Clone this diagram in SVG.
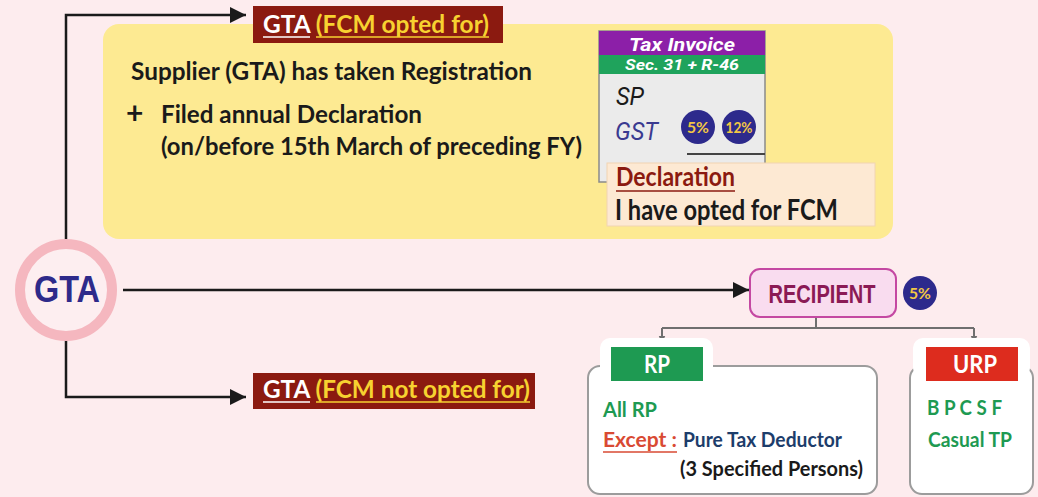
<svg xmlns="http://www.w3.org/2000/svg" width="1038" height="497" viewBox="0 0 1038 497">
  <defs>
    <marker id="arrowBig" viewBox="0 0 10 10" refX="10" refY="5" markerWidth="18" markerHeight="16" markerUnits="userSpaceOnUse" orient="auto">
      <path d="M0,0 L10,5 L0,10 Z" fill="#1a1a1a"/>
    </marker>
    <marker id="arrowGray" viewBox="0 0 10 10" refX="10" refY="5" markerWidth="8" markerHeight="8" markerUnits="userSpaceOnUse" orient="auto">
      <path d="M0,1 L10,5 L0,9 Z" fill="#6f6f6f"/>
    </marker>
    <style>
      .body { font-family: Lato, "Liberation Sans", sans-serif; font-weight: 700; }
      .hdr { font-family: Roboto, "Liberation Sans", sans-serif; font-weight: 700; font-style: italic; fill: #ffffff; }
      .inv { font-family: Roboto, "Liberation Sans", sans-serif; font-style: italic; }
      .title-box { fill: #8b1a10; }
      .t-white { fill: #ffffff; }
      .t-yellow { fill: #f7d230; }
      .link { fill: none; stroke: #1a1a1a; stroke-width: 2.5; }
      .tree { fill: none; stroke: #6f6f6f; stroke-width: 2; }
      .badge { fill: #2d2a8c; }
      .badge-t { font-family: Lato, "Liberation Sans", sans-serif; font-weight: 700; fill: #f2c744; font-size: 16px; }
      .panel { fill: #ffffff; stroke: #9c9c9c; stroke-width: 2; }
      .green { fill: #1e9a52; }
    </style>
  </defs>

  <!-- page background -->
  <rect x="0" y="0" width="1038" height="497" fill="#fdecee"/>

  <!-- connectors -->
  <g id="connectors">
    <path class="link" d="M66,240 V15 H246" marker-end="url(#arrowBig)"/>
    <path class="link" d="M66,340 V397 H246" marker-end="url(#arrowBig)"/>
    <path class="link" d="M123,290 H749" marker-end="url(#arrowBig)"/>
    <path class="tree" d="M816,317 V328"/>
    <path class="tree" d="M662,328 H974"/>
    <path class="tree" d="M662,328 V344" marker-end="url(#arrowGray)"/>
    <path class="tree" d="M974,328 V344" marker-end="url(#arrowGray)"/>
  </g>

  <!-- FCM opted: conditions panel -->
  <g id="fcm-conditions">
    <rect x="103" y="24" width="790" height="215" rx="16" fill="#fdea92"/>
    <text class="body" x="131" y="80" font-size="24" fill="#1a1a1a" textLength="401" lengthAdjust="spacingAndGlyphs">Supplier (GTA) has taken Registration</text>
    <text class="body" x="126" y="124" font-size="30" fill="#1a1a1a">+</text>
    <text class="body" x="161" y="123" font-size="24" fill="#1a1a1a" textLength="261" lengthAdjust="spacingAndGlyphs">Filed annual Declaration</text>
    <text class="body" x="161" y="155" font-size="24" fill="#1a1a1a" textLength="421" lengthAdjust="spacingAndGlyphs">(on/before 15th March of preceding FY)</text>
  </g>

  <!-- tax invoice card -->
  <g id="tax-invoice">
    <rect x="599" y="31" width="166" height="151" fill="#ebebeb" stroke="#8a8a8a" stroke-width="1.5"/>
    <rect x="599" y="31" width="166" height="24" fill="#8c1fa8"/>
    <rect x="599" y="55" width="166" height="19" fill="#1fa35c"/>
    <text class="hdr" x="682" y="51" font-size="19" text-anchor="middle" textLength="106" lengthAdjust="spacingAndGlyphs">Tax Invoice</text>
    <text class="hdr" x="682" y="70" font-size="14" text-anchor="middle" textLength="114" lengthAdjust="spacingAndGlyphs">Sec. 31 + R-46</text>
    <text class="inv" x="616" y="105" font-size="25" fill="#1a1a1a" textLength="28" lengthAdjust="spacingAndGlyphs">SP</text>
    <text class="inv" x="615" y="140" font-size="25" fill="#3a3a90" textLength="43" lengthAdjust="spacingAndGlyphs">GST</text>
    <circle class="badge" cx="698" cy="127" r="17"/>
    <text class="badge-t" x="698" y="133" text-anchor="middle" textLength="22" lengthAdjust="spacingAndGlyphs">5%</text>
    <circle class="badge" cx="739" cy="127" r="17"/>
    <text class="badge-t" x="739" y="133" text-anchor="middle" textLength="27" lengthAdjust="spacingAndGlyphs">12%</text>
    <line x1="687" y1="154" x2="765" y2="154" stroke="#444444" stroke-width="2"/>
  </g>

  <!-- declaration note -->
  <g id="declaration">
    <rect x="607" y="163" width="268" height="63" fill="#fde9d3" stroke="#f1d4b2" stroke-width="1"/>
    <text class="body" x="616" y="186" font-size="26" fill="#8b1a10" textLength="119" lengthAdjust="spacingAndGlyphs">Declaration</text>
    <line x1="616" y1="191" x2="735" y2="191" stroke="#8b1a10" stroke-width="1.6"/>
    <text class="body" x="615" y="220" font-size="28" fill="#1a1a1a" textLength="223" lengthAdjust="spacingAndGlyphs">I have opted for FCM</text>
  </g>

  <!-- GTA (FCM opted for) -->
  <g id="gta-fcm-opted">
    <rect class="title-box" x="253" y="6" width="250" height="37"/>
    <text class="body" x="263" y="33" font-size="25" textLength="226" lengthAdjust="spacingAndGlyphs"><tspan class="t-white">GTA </tspan><tspan class="t-yellow">(FCM opted for)</tspan></text>
    <line x1="263" y1="37" x2="310" y2="37" stroke="#ffffff" stroke-width="1.5"/>
    <line x1="316" y1="37" x2="489" y2="37" stroke="#f7d230" stroke-width="1.5"/>
  </g>

  <!-- GTA (FCM not opted for) -->
  <g id="gta-fcm-not-opted">
    <rect class="title-box" x="253" y="373" width="282" height="36"/>
    <text class="body" x="263" y="398" font-size="25" textLength="267" lengthAdjust="spacingAndGlyphs"><tspan class="t-white">GTA </tspan><tspan class="t-yellow">(FCM not opted for)</tspan></text>
    <line x1="263" y1="402" x2="310" y2="402" stroke="#ffffff" stroke-width="1.5"/>
    <line x1="316" y1="402" x2="530" y2="402" stroke="#f7d230" stroke-width="1.5"/>
  </g>

  <!-- GTA origin -->
  <g id="gta">
    <circle cx="66" cy="290" r="46" fill="#fdeef0" stroke="#f5b7bf" stroke-width="10"/>
    <text x="67" y="302" font-family="'Liberation Sans', Arial, sans-serif" font-weight="700" font-size="37" fill="#2e2a8a" text-anchor="middle" textLength="66" lengthAdjust="spacingAndGlyphs">GTA</text>
  </g>

  <!-- recipient -->
  <g id="recipient">
    <rect x="750" y="269" width="146" height="48" rx="10" fill="#f9dcef" stroke="#c448a2" stroke-width="2"/>
    <text x="822" y="303" font-family="'Liberation Sans', Arial, sans-serif" font-weight="700" font-size="26" fill="#8b1a55" text-anchor="middle" textLength="107" lengthAdjust="spacingAndGlyphs">RECIPIENT</text>
    <circle class="badge" cx="920" cy="293" r="17"/>
    <text class="badge-t" x="920" y="299" text-anchor="middle" textLength="22" lengthAdjust="spacingAndGlyphs">5%</text>
  </g>

  <!-- registered persons -->
  <g id="rp">
    <rect class="panel" x="588" y="366" width="289" height="128" rx="12"/>
    <rect x="600" y="338" width="113" height="40" rx="10" fill="#ffffff"/>
    <rect x="611" y="347" width="92" height="34" fill="#1e9a52"/>
    <text x="657" y="373" font-family="Lato, 'Liberation Sans', sans-serif" font-weight="700" font-size="25" fill="#ffffff" text-anchor="middle" textLength="26" lengthAdjust="spacingAndGlyphs">RP</text>
    <text class="body green" x="603" y="417" font-size="20" textLength="54" lengthAdjust="spacingAndGlyphs">All RP</text>
    <text class="body" x="603" y="447" font-size="20" fill="#d94a33" textLength="74" lengthAdjust="spacingAndGlyphs">Except :</text>
    <line x1="603" y1="452" x2="677" y2="452" stroke="#d94a33" stroke-width="1.6"/>
    <text class="body" x="683" y="447" font-size="20" fill="#1d3d6b" textLength="159" lengthAdjust="spacingAndGlyphs">Pure Tax Deductor</text>
    <text class="body" x="680" y="476" font-size="20" fill="#1a1a1a" textLength="183" lengthAdjust="spacingAndGlyphs">(3 Specified Persons)</text>
  </g>

  <!-- unregistered persons -->
  <g id="urp">
    <rect class="panel" x="910" y="366" width="123" height="128" rx="12"/>
    <rect x="913" y="338" width="117" height="40" rx="10" fill="#ffffff"/>
    <rect x="926" y="347" width="92" height="34" fill="#dd2c1e"/>
    <text x="975" y="373" font-family="Lato, 'Liberation Sans', sans-serif" font-weight="700" font-size="25" fill="#ffffff" text-anchor="middle" textLength="44" lengthAdjust="spacingAndGlyphs">URP</text>
    <text class="body green" x="927" y="415" font-size="20" textLength="75" lengthAdjust="spacingAndGlyphs">B P C S F</text>
    <text class="body green" x="928" y="447" font-size="20" textLength="84" lengthAdjust="spacingAndGlyphs">Casual TP</text>
  </g>
</svg>
